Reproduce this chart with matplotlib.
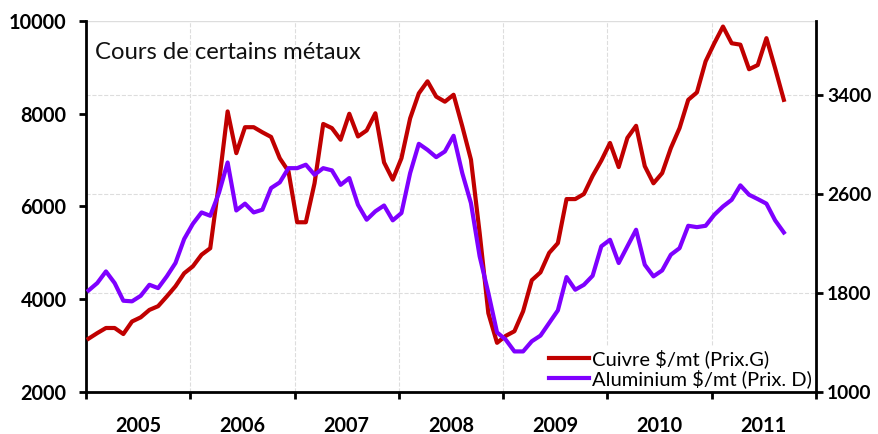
import matplotlib.pyplot as plt
import matplotlib.transforms as mtransforms
import numpy as np

plt.rcParams['font.family'] = ['Lato', 'DejaVu Sans']

# monthly prices, Jan 2005 -> Sep 2011
cuivre = [3150, 3270, 3380, 3380, 3250, 3520, 3610, 3770, 3850, 4060,
          4280, 4560, 4710, 4960, 5100, 6500, 8050, 7150, 7710, 7710,
          7600, 7500, 7040, 6760, 5660, 5660, 6500, 7780, 7690, 7440,
          8000, 7510, 7640, 8010, 6950, 6580, 7040, 7900, 8440, 8700,
          8370, 8260, 8410, 7730, 7010, 5430, 3700, 3060, 3210, 3310,
          3740, 4410, 4580, 5000, 5210, 6160, 6160, 6270, 6660, 6990,
          7370, 6850, 7480, 7740, 6870, 6500, 6720, 7260, 7690, 8300,
          8460, 9130, 9520, 9880, 9520, 9490, 8960, 9050, 9630, 8980,
          8300]
aluminium = [1821, 1881, 1975, 1881, 1738, 1733, 1778, 1867, 1840, 1935,
             2043, 2237, 2360, 2452, 2425, 2609, 2856, 2468, 2523, 2452,
             2474, 2649, 2695, 2810, 2810, 2838, 2757, 2810, 2792, 2675,
             2730, 2514, 2393, 2461, 2508, 2388, 2447, 2770, 3007, 2958,
             2899, 2945, 3072, 2770, 2527, 2097, 1801, 1482, 1423, 1328,
             1328, 1410, 1456, 1558, 1660, 1929, 1827, 1867, 1940, 2178,
             2231, 2043, 2178, 2312, 2029, 1935, 1983, 2110, 2163, 2344,
             2333, 2344, 2433, 2500, 2554, 2671, 2595, 2560, 2523, 2388,
             2290]
years = ['2005', '2006', '2007', '2008', '2009', '2010', '2011']
right_ticks = [1000, 1800, 2600, 3400]

months = np.arange(len(cuivre)) + 0.3

fig = plt.figure(figsize=(8.79, 4.34), dpi=100)
ax = fig.add_axes([0.0978, 0.0968, 0.8305, 0.8548])
ax2 = ax.twinx()

l1, = ax.plot(months, cuivre, color='#C00000', lw=3.0, label='Cuivre $/mt (Prix.G)', zorder=3)
l2, = ax2.plot(months, aluminium, color='#7F00FF', lw=3.0, label='Aluminium $/mt (Prix. D)', zorder=3)

ax.set_xlim(0, 84)
ax.set_ylim(2000, 10000)
ax2.set_ylim(1000, 4000)
ax.set_yticks(range(2000, 10001, 2000))
ax2.set_yticks(right_ticks)

ax.set_xticks(np.arange(0, 85, 12))
ax.set_xticklabels([])
ax.set_xticks(np.arange(6, 84, 12), minor=True)
ax.set_xticklabels(years, minor=True)
ax.tick_params(axis='x', which='minor', length=0, pad=17)
ax.tick_params(axis='x', which='major', length=5, width=2, direction='out')
ax.tick_params(axis='y', length=5, width=2, direction='out', pad=9)
ax2.tick_params(axis='y', length=5, width=2, direction='out', pad=3)

for lab in ax.get_xticklabels(minor=True) + ax.get_yticklabels():
    lab.set_fontsize(14.3)
    lab.set_fontweight('bold')
for lab in ax2.get_yticklabels():
    lab.set_fontsize(13.8)
    lab.set_fontweight('bold')

# grid: vertical at year boundaries, horizontal at right-axis ticks (drawn under the lines)
ax.grid(True, axis='x', which='major', linestyle='--', color='#dddddd', lw=0.8)
ax.set_axisbelow(True)
trans = mtransforms.blended_transform_factory(ax.transAxes, ax2.transData)
for t in right_ticks[1:]:
    ax.plot([0, 1], [t, t], transform=trans, color='#dddddd', lw=0.8,
            linestyle='--', zorder=0.5)
ax.axhline(10000, color='#dddddd', lw=1.0, zorder=0.5)

for a in (ax, ax2):
    a.spines['top'].set_visible(False)
    a.spines['left'].set_linewidth(2)
    a.spines['right'].set_linewidth(2)
    a.spines['bottom'].set_linewidth(2)
ax.spines['right'].set_visible(False)
ax2.spines['left'].set_visible(False)
ax2.spines['bottom'].set_visible(False)

ax.text(0.013, 0.915, 'Cours de certains métaux', transform=ax.transAxes,
        fontsize=17.2, color='#111111', va='center', ha='left')

leg = ax2.legend([l1, l2], [l1.get_label(), l2.get_label()], loc='lower right',
                 bbox_to_anchor=(1.0, 0.0), frameon=True, fancybox=False,
                 edgecolor='none', facecolor='white', framealpha=1,
                 fontsize=14.5, handlelength=2.0, handletextpad=0.15,
                 labelspacing=0.05, borderpad=0.15, borderaxespad=0.05)

fig.savefig('out.png', dpi=100)
